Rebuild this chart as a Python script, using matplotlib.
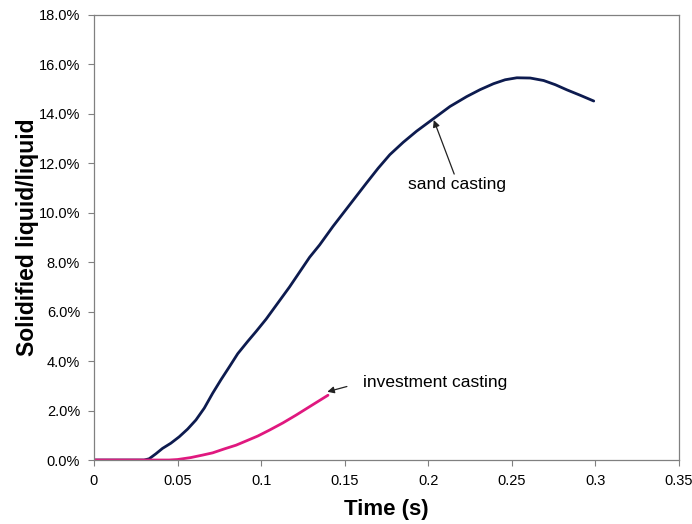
import matplotlib
matplotlib.use("Agg")
import matplotlib.pyplot as plt
from matplotlib.ticker import FuncFormatter

plt.rcParams['font.family'] = ['Liberation Sans', 'DejaVu Sans']

sand_t = [0.0, 0.020, 0.030, 0.033, 0.037, 0.041, 0.046, 0.051, 0.056, 0.061,
          0.066, 0.071, 0.076, 0.081, 0.086, 0.092, 0.097,
          0.103, 0.110, 0.117, 0.123, 0.129, 0.135, 0.143, 0.151, 0.163,
          0.170, 0.177, 0.185, 0.193, 0.203, 0.213, 0.223, 0.231, 0.239,
          0.246, 0.253, 0.261, 0.269, 0.276, 0.283, 0.291, 0.299]
sand_v = [0.0, 0.0, 0.0, 0.05, 0.25, 0.47, 0.68, 0.94, 1.25, 1.62,
          2.1, 2.7, 3.25, 3.77, 4.3, 4.8, 5.2,
          5.7, 6.35, 7.0, 7.6, 8.2, 8.7, 9.45, 10.15, 11.2,
          11.8, 12.35, 12.85, 13.3, 13.8, 14.3, 14.7, 14.98, 15.22,
          15.38, 15.46, 15.45, 15.35, 15.18, 14.97, 14.75, 14.52]

inv_t = [0.0, 0.030, 0.045, 0.050, 0.058, 0.065, 0.071, 0.078, 0.085, 0.091,
         0.098, 0.105, 0.113, 0.121, 0.130, 0.140]
inv_v = [0.0, 0.0, 0.0, 0.02, 0.1, 0.2, 0.29, 0.45, 0.6, 0.77,
         0.97, 1.21, 1.5, 1.82, 2.2, 2.62]

x_ticks = [0, 0.05, 0.1, 0.15, 0.2, 0.25, 0.3, 0.35]
x_labels = ['0', '0.05', '0.1', '0.15', '0.2', '0.25', '0.3', '0.35']
y_ticks = [0, 2, 4, 6, 8, 10, 12, 14, 16, 18]

fig = plt.figure(figsize=(6.92, 5.24), dpi=100)
ax = fig.add_axes([0.1358, 0.1221, 0.8454, 0.8493])

ax.plot(sand_t, sand_v, color='#0d1b4f', lw=2.0, solid_capstyle='round', solid_joinstyle='round')
ax.plot(inv_t, inv_v, color='#e0187f', lw=2.0, solid_capstyle='round', solid_joinstyle='round')

ax.set_xlim(0, 0.35)
ax.set_ylim(0, 18)
ax.set_xticks(x_ticks)
ax.set_xticklabels(x_labels)
ax.set_yticks(y_ticks)
ax.yaxis.set_major_formatter(FuncFormatter(lambda v, p: f"{v:.1f}%"))

for s in ax.spines.values():
    s.set_color('#808080')
    s.set_linewidth(0.9)
ax.tick_params(axis='both', direction='out', length=4, width=0.8, color='#808080',
               labelsize=10.5, pad=6)

ax.set_xlabel('Time (s)', fontsize=16, fontweight='bold', labelpad=8)
ax.set_ylabel('Solidified liquid/liquid', fontsize=16.5, fontweight='bold', labelpad=0)

ax.annotate('sand casting', xy=(0.2033, 13.75), xytext=(0.188, 11.15),
            fontsize=12.5, ha='left', va='center',
            arrowprops=dict(arrowstyle='-|>', color='#222222', lw=0.9,
                            mutation_scale=10, shrinkA=0, shrinkB=0,
                            relpos=(0.48, 1.0)))
ax.annotate('investment casting', xy=(0.1396, 2.76), xytext=(0.161, 3.15),
            fontsize=12.5, ha='left', va='center',
            arrowprops=dict(arrowstyle='-|>', color='#222222', lw=0.9,
                            mutation_scale=10, shrinkA=10, shrinkB=0,
                            relpos=(0.0, 0.5)))

fig.savefig('out.png', dpi=100)
